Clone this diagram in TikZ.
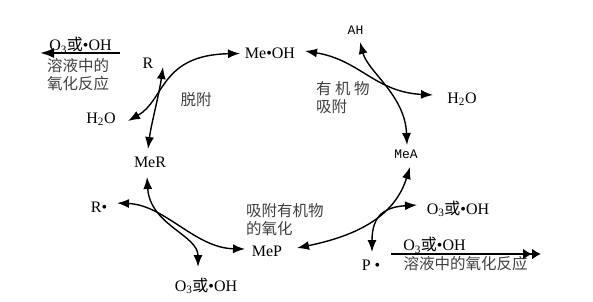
\documentclass[tikz,border=0pt]{standalone}
\usepackage{fontspec}
\setmainfont{Liberation Serif}
\newfontfamily\cjk{Noto Sans CJK SC}
\newfontfamily\monof{Liberation Mono}
\usetikzlibrary{arrows.meta}
\newcommand{\othree}{O\textsubscript{3}{\cjk 或}•OH}

\begin{document}
\begin{tikzpicture}[x=1pt, y=-1pt,
	lab/.style={inner sep=0pt, font=\fontsize{16}{18}\selectfont},
	cn/.style={inner sep=0pt, align=left, text=black!75, font=\cjk\fontsize{15.5}{18}\selectfont},
	mono/.style={inner sep=0pt, font=\monof\fontsize{13}{15}\selectfont},
	dar/.style={{Latex[length=12pt,width=9pt]}-{Latex[length=12pt,width=9pt]}, line width=1.4pt},
	sol/.style={line width=2pt}]
	
	\useasboundingbox (0,0) rectangle (593,301);
	
	\node[lab] (meoh) at (270,53.5) {Me•OH};
	\node[lab] (R) at (148,63.5) {R};
	\node[lab] (h2oL) at (101,119) {H\textsubscript{2}O};
	\node[lab] (meR) at (150,162) {MeR};
	\node[lab] (rdot) at (99,207) {R•};
	\node[lab] (o3B) at (206,286) {\othree};
	\node[lab] (meP) at (267,251) {MeP};
	\node[mono] (AH) at (355.5,30) {AH};
	\node[lab] (h2oR) at (462,99) {H\textsubscript{2}O};
	\node[mono] (meA) at (406,154) {MeA};
	\node[lab] (o3R) at (458,209) {\othree};
	\node[lab] (P) at (371,265) {P •};
	
	\node[cn] (desorb) at (196,100) {脱附};
	\node[cn, anchor=west] (adsorb) at (316,98) {有 机 物\\吸附};
	\node[cn, anchor=west] (oxad) at (246,220) {吸附有机物\\的氧化};
	
	% oxidation in solution
	\node[lab] (tlO) at (80.5,45.5) {\othree};
	\node[cn, anchor=west] (tlS) at (47,75) {溶液中的\\氧化反应};
	\coordinate (tlA) at (120,53);
	\coordinate (tlB) at (40,53);
	\draw[sol, -{Latex[length=14pt,width=10pt]}] (tlA) -- (tlB);
	
	\node[lab] (brO) at (434.5,245.5) {\othree};
	\node[cn] (brS) at (465.5,264) {溶液中的氧化反应};
	\coordinate (brA) at (391,254);
	\coordinate (brB) at (541,254);
	\draw[sol, -{Latex[length=9pt,width=11pt]Latex[length=9pt,width=11pt]}] (brA) -- (brB);
	
	% desorption
	\draw[dar] ([shift={(-2,-13)}]meR.center) .. controls (151,125) and (159,95) .. ([shift={(15,3.5)}]R.center);
	\draw[dar] ([shift={(27,2)}]h2oL.center) .. controls (165,100) and (160,55) .. ([shift={(-30,0)}]meoh.center);
	
	% adsorption of organics
	\draw[dar] ([shift={(35,-2.5)}]meoh.center) .. controls (360,60) and (375,92) .. ([shift={(-29,-4)}]h2oR.center);
	\draw[dar] ([shift={(4.5,12)}]AH.center) .. controls (368,72) and (405,95) .. ([shift={(1,-9)}]meA.center);
	
	% oxidation of adsorbed organics
	\draw[dar] ([shift={(30,-3)}]meP.center) .. controls (360,235) and (395,215) .. ([shift={(4,13)}]meA.center);
	\draw[dar] ([shift={(1,-13)}]P.center) .. controls (372,215) and (385,207) .. ([shift={(-41,-4)}]o3R.center);
	
	% back to MeR
	\draw[dar] ([shift={(-3,15)}]meR.center) .. controls (150,225) and (198,235) .. ([shift={(-8,-19)}]o3B.center);
	\draw[dar] ([shift={(18,-4)}]rdot.center) .. controls (165,205) and (195,248) .. ([shift={(-22,-2)}]meP.center);
	
\end{tikzpicture}
\end{document}
